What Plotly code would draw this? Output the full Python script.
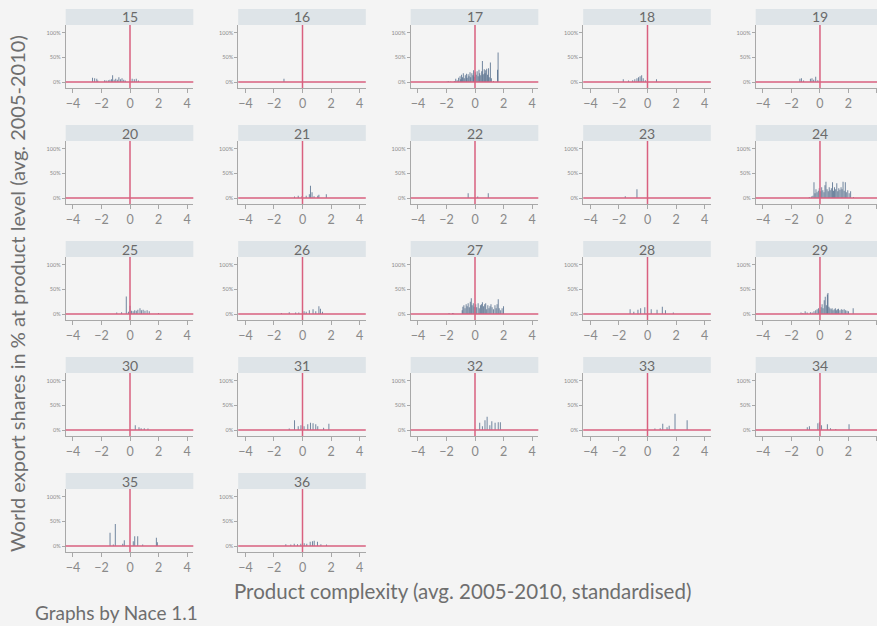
import plotly.graph_objects as go

# ---------------- data ----------------
nace = ["15", "16", "17", "18", "19", "20", "21", "22", "23", "24", "25",
        "26", "27", "28", "29", "30", "31", "32", "33", "34", "35", "36"]

x_ticks = [-4, -2, 0, 2, 4]
y_ticks = [0, 50, 100]
y_tick_labels = ["0%", "50%", "100%"]

x15 = [-2.63, -2.48, -2.33, -2.26, -1.78, -1.67, -1.52, -1.41, -1.30, -1.22, -1.11, -1.0,
       -0.89, -0.78, -0.67, -0.56, -0.44, -0.33, 0.15, 0.30, 0.44, 0.59]
h15 = [9, 8, 7, 3, 4, 3, 4, 5, 6, 14, 5, 7, 5, 10, 6, 8, 5, 3, 7, 6, 7, 3]

x16 = [-1.3]
h16 = [7]

x17 = [-1.95, -1.85, -1.7, -1.45, -1.35, -1.25, -1.15, -1.05, -1.0, -0.95, -0.88, -0.82,
       -0.75, -0.68, -0.6, -0.55, -0.48, -0.42, -0.35, -0.3, -0.22, -0.15, -0.1, -0.05,
       0.02, 0.08, 0.15, 0.22, 0.28, 0.33, 0.4, 0.47, 0.52, 0.58, 0.65, 0.7, 0.75, 0.82,
       0.88, 0.95, 1.0, 1.08, 1.15, 1.3, 1.58, 1.62]
h17 = [1, 1.5, 1, 2, 7, 4, 9, 12, 6, 15, 10, 18, 8, 14, 17, 9, 16, 12, 20, 10, 18, 14, 24, 11,
       20, 15, 22, 12, 25, 18, 14, 22, 43, 16, 26, 18, 24, 27, 15, 28, 10, 40, 8, 2, 25, 60]

x18 = [-1.70, -1.33, -1.04, -0.89, -0.74, -0.63, -0.52, -0.41, -0.30, -0.15, 0.63]
h18 = [6, 3, 4, 6, 8, 10, 12, 14, 8, 4, 6]

x19 = [-1.41, -1.30, -1.15, -0.67, -0.56, -0.44, -0.30, -0.15]
h19 = [7, 8, 3, 7, 8, 5, 11, 4]

x20 = []
h20 = []

x21 = [-0.56, -0.30, -0.04, 0.26, 0.48, 0.56, 0.67, 0.81, 1.07, 1.15, 1.67]
h21 = [3, 5, 4, 5, 8, 25, 12, 4, 5, 7, 8]

x22 = [-0.48, 0.19, 0.93]
h22 = [10, 3, 10]

x23 = [-1.56, -0.74]
h23 = [4, 18]

x24 = [-0.75, -0.6, -0.5, -0.42, -0.35, -0.28, -0.2, -0.12, -0.05, 0.05, 0.12, 0.2, 0.28,
       0.35, 0.42, 0.5, 0.58, 0.65, 0.72, 0.8, 0.88, 0.95, 1.02, 1.1, 1.18, 1.25, 1.32,
       1.4, 1.48, 1.55, 1.62, 1.7, 1.78, 1.85, 1.95, 2.05, 2.15, 2.35]
h24 = [2, 3, 5, 32, 10, 18, 12, 15, 20, 14, 22, 16, 12, 26, 33, 18, 14, 22, 16, 20, 32, 15,
       22, 18, 30, 14, 20, 17, 22, 18, 33, 15, 32, 12, 16, 10, 14, 2]

x25 = [-0.93, -0.59, -0.26, -0.11, 0.0, 0.11, 0.22, 0.33, 0.44, 0.55, 0.70, 0.8, 0.92,
       1.05, 1.2, 1.35, 2.0]
h25 = [3, 4, 36, 5, 17, 7, 6, 8, 7, 9, 12, 8, 9, 7, 8, 6, 2]

x26 = [-1.48, -0.93, -0.48, -0.26, 0.0, 0.11, 0.26, 0.48, 0.74, 0.93, 1.15, 1.26, 1.4]
h26 = [2, 4, 3, 3, 18, 6, 5, 8, 10, 6, 16, 11, 5]

x27 = [-1.82, -1.58, -1.5, -0.9, -0.85, -0.78, -0.7, -0.62, -0.55, -0.48, -0.4, -0.33,
       -0.26, -0.2, -0.12, -0.05, 0.05, 0.12, 0.22, 0.3, 0.38, 0.45, 0.52, 0.6, 0.68,
       0.75, 0.82, 0.9, 0.98, 1.05, 1.12, 1.2, 1.3, 1.4, 1.48, 1.55, 1.63, 1.7, 1.8,
       1.9, 2.0]
h27 = [2, 2, 1.5, 8, 15, 18, 12, 20, 16, 22, 14, 25, 32, 18, 22, 15, 20, 14, 22, 12, 18,
       20, 24, 16, 20, 22, 10, 18, 12, 16, 20, 14, 10, 18, 12, 20, 30, 12, 8, 12, 16]

x28 = [-1.22, -0.96, -0.67, -0.48, -0.19, 0.0, 0.26, 0.67, 1.04, 1.26, 1.81]
h28 = [10, 5, 9, 12, 14, 16, 10, 9, 15, 8, 3]

x29 = [-1.33, -1.2, -1.04, -0.9, -0.67, -0.55, -0.42, -0.3, -0.2, -0.1, 0.0, 0.08, 0.15,
       0.22, 0.3, 0.37, 0.45, 0.52, 0.56, 0.63, 0.7, 0.78, 0.85, 0.92, 1.0, 1.08, 1.15,
       1.22, 1.3, 1.4, 1.5, 1.6, 1.7, 1.8, 1.9, 2.0, 2.33]
h29 = [3, 2, 6, 3, 4, 3, 6, 8, 10, 12, 8, 14, 20, 12, 28, 35, 18, 40, 43, 15, 12, 10, 12,
       8, 10, 12, 8, 10, 11, 8, 10, 9, 10, 8, 7, 6, 12]

x30 = [0.37, 0.63, 0.78, 1.0, 1.26]
h30 = [10, 6, 4, 4, 3]

x31 = [-0.93, -0.56, -0.30, -0.11, 0.11, 0.37, 0.56, 0.74, 0.93, 1.07, 1.48, 1.85]
h31 = [3, 20, 8, 10, 8, 12, 15, 14, 12, 8, 5, 13]

x32 = [0.33, 0.52, 0.70, 0.85, 1.04, 1.18, 1.41, 1.63, 1.78]
h32 = [15, 8, 20, 27, 10, 18, 15, 16, 16]

x33 = [0.52, 0.89, 1.07, 1.37, 1.52, 1.93, 2.78]
h33 = [3, 4, 13, 6, 9, 33, 20]

x34 = [-0.89, -0.74, -0.15, -0.04, 0.11, 0.52, 0.74, 1.11, 2.04]
h34 = [6, 8, 14, 16, 10, 12, 4, 2, 12]

x35 = [-1.40, -1.17, -1.03, -0.51, -0.40, 0.23, 0.33, 0.54, 0.89, 1.85, 1.92]
h35 = [27, 3, 45, 5, 12, 10, 20, 20, 3, 17, 8]

x36 = [-1.17, -0.82, -0.58, -0.35, -0.12, 0.12, 0.30, 0.54, 0.70, 0.82, 1.05, 1.29, 1.68]
h36 = [4, 3, 5, 4, 5, 6, 5, 9, 10, 11, 9, 4, 3]

series = {
    "15": (x15, h15), "16": (x16, h16), "17": (x17, h17), "18": (x18, h18),
    "19": (x19, h19), "20": (x20, h20), "21": (x21, h21), "22": (x22, h22),
    "23": (x23, h23), "24": (x24, h24), "25": (x25, h25), "26": (x26, h26),
    "27": (x27, h27), "28": (x28, h28), "29": (x29, h29), "30": (x30, h30),
    "31": (x31, h31), "32": (x32, h32), "33": (x33, h33), "34": (x34, h34),
    "35": (x35, h35), "36": (x36, h36),
}

# ---------------- layout constants ----------------
W, H = 877, 626
FONT = "Lato"
BG = "#f4f4f4"
RED = "#d9607f"
AXIS = "#a8a8a8"
TXT = "#8a8a8a"

fig = go.Figure()
layout = dict(
    width=W, height=H, margin=dict(l=0, r=0, t=0, b=0),
    paper_bgcolor=BG, plot_bgcolor=BG, showlegend=False,
    font=dict(family=FONT, color=TXT), barmode="overlay",
)
shapes, annotations = [], []

XMIN, XMAX, PXU = -4.51, 4.44, 14.25
PW = 127.6

for i, lab in enumerate(nace):
    r, c = divmod(i, 5)
    n = i + 1
    sx = "" if n == 1 else str(n)
    L = 65.7 + 172.5 * c
    R = L + PW
    xr1 = XMAX
    if R > W:
        xr1 = XMIN + (W - L) / PXU
        R = W
    top = 25 + 116 * r
    bot = 88 + 116 * r
    xs, hs = series[lab]
    fig.add_trace(go.Bar(
        x=xs, y=hs, width=0.07, xaxis="x" + sx, yaxis="y" + sx,
        marker=dict(color="rgba(62,92,126,0.72)", line=dict(width=0)),
        hoverinfo="x+y",
    ))
    layout["xaxis" + sx] = dict(
        domain=[L / W, R / W], range=[XMIN, xr1], anchor="y" + sx,
        tickvals=x_ticks, showgrid=False, zeroline=False,
        showline=True, linecolor=AXIS, linewidth=1,
        ticks="outside", ticklen=4, tickcolor=AXIS,
        tickfont=dict(size=12.5, color=TXT, family=FONT), fixedrange=True,
    )
    layout["yaxis" + sx] = dict(
        domain=[1 - bot / H, 1 - top / H], range=[-12, 116], anchor="x" + sx,
        tickvals=y_ticks, ticktext=y_tick_labels, showgrid=False, zeroline=False,
        showline=True, linecolor=AXIS, linewidth=1,
        ticks="outside", ticklen=3, tickcolor=AXIS,
        tickfont=dict(size=5.5, color=TXT, family=FONT), fixedrange=True,
    )
    # header strip
    shapes.append(dict(type="rect", xref="paper", yref="paper",
                       x0=L / W, x1=R / W, y0=1 - top / H, y1=1 - (top - 16) / H,
                       fillcolor="#dee4e8", line=dict(width=0), layer="below"))
    annotations.append(dict(text=lab, xref="paper", yref="paper",
                            x=(L + PW / 2) / W, y=1 - (top - 8) / H,
                            showarrow=False, font=dict(size=14, color="#6a6a6a", family=FONT),
                            xanchor="center", yanchor="middle"))
    # reference lines
    shapes.append(dict(type="line", xref="x" + sx, yref="y" + sx + " domain",
                       x0=0, x1=0, y0=0, y1=1, line=dict(color=RED, width=1.5)))
    shapes.append(dict(type="line", xref="x" + sx + " domain", yref="y" + sx,
                       x0=0, x1=1, y0=0, y1=0, line=dict(color=RED, width=1.5)))

annotations.append(dict(text="Product complexity (avg. 2005-2010, standardised)",
                        xref="paper", yref="paper", x=462 / W, y=1 - 591 / H,
                        showarrow=False, font=dict(size=20.5, color="#6e6e6e", family=FONT),
                        xanchor="center", yanchor="middle"))
annotations.append(dict(text="World export shares in % at product level (avg. 2005-2010)",
                        xref="paper", yref="paper", x=17 / W, y=1 - 294 / H,
                        showarrow=False, textangle=-90,
                        font=dict(size=20, color="#6e6e6e", family=FONT),
                        xanchor="center", yanchor="middle"))
annotations.append(dict(text="Graphs by Nace 1.1",
                        xref="paper", yref="paper", x=33 / W, y=1 - 612 / H,
                        showarrow=False, font=dict(size=19, color="#6e6e6e", family=FONT),
                        xanchor="left", yanchor="middle"))

layout["shapes"] = shapes
layout["annotations"] = annotations
fig.update_layout(**layout)
fig.write_html("out.html", config={"displayModeBar": False},
               post_script="document.body.style.margin='0';document.body.style.overflow='hidden';")
